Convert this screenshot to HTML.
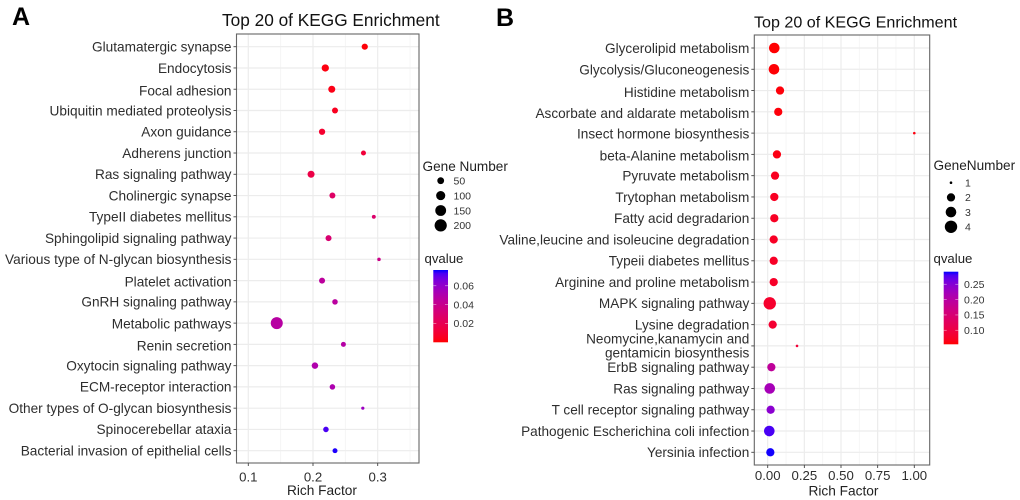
<!DOCTYPE html>
<html lang="en">
<head>
<meta charset="utf-8">
<title>Top 20 of KEGG Enrichment</title>
<style>
  html, body { margin: 0; padding: 0; background: #fff; }
  svg { display: block; font-family: "Liberation Sans", Arial, sans-serif; filter: blur(0.35px); }
</style>
</head>
<body>
<svg id="figure" xmlns="http://www.w3.org/2000/svg" width="1020" height="500" viewBox="0 0 1020 500">
  <rect x="0" y="0" width="1020" height="500" fill="#ffffff"/>
  <text x="12" y="25" font-size="25" font-weight="bold" fill="#000">A</text>
  <text x="496" y="26" font-size="25" font-weight="bold" fill="#000">B</text>
  <g id="chart-a"></g>
  <g id="chart-b"></g>
</svg>
<script>
// ---- Panel A data ----
var aCategories = ["Glutamatergic synapse","Endocytosis","Focal adhesion","Ubiquitin mediated proteolysis","Axon guidance","Adherens junction","Ras signaling pathway","Cholinergic synapse","TypeII diabetes mellitus","Sphingolipid signaling pathway","Various type of N-glycan biosynthesis","Platelet activation","GnRH signaling pathway","Metabolic pathways","Renin secretion","Oxytocin signaling pathway","ECM-receptor interaction","Other types of O-glycan biosynthesis","Spinocerebellar ataxia","Bacterial invasion of epithelial cells"];
var aRichFactor = [0.280,0.219,0.229,0.234,0.214,0.278,0.197,0.230,0.294,0.224,0.302,0.214,0.234,0.144,0.247,0.203,0.230,0.277,0.220,0.234];
var aGeneNumber = [41,59,54,38,42,26,54,38,18,38,16,38,32,191,26,45,32,15,32,26];
var aQValue = [0.001,0.002,0.003,0.005,0.009,0.012,0.016,0.026,0.028,0.030,0.038,0.045,0.046,0.047,0.048,0.050,0.051,0.057,0.073,0.076];
var aXTicks = [0.1,0.2,0.3];
var aXMinorTicks = [0.15,0.25,0.35];
var aSizeLegend = [50,100,150,200];
var aColorTicks = [0.02,0.04,0.06];

// ---- Panel B data ----
var bCategories = ["Glycerolipid metabolism","Glycolysis/Gluconeogenesis","Histidine metabolism","Ascorbate and aldarate metabolism","Insect hormone biosynthesis","beta-Alanine metabolism","Pyruvate metabolism","Trytophan metabolism","Fatty acid degradarion","Valine,leucine and isoleucine degradation","Typeii diabetes mellitus","Arginine and proline metabolism","MAPK signaling pathway","Lysine degradation","Neomycine,kanamycin and\ngentamicin biosynthesis","ErbB signaling pathway","Ras signaling pathway","T cell receptor signaling pathway","Pathogenic Escherichina coli infection","Yersinia infection"];
var bRichFactor = [0.045,0.043,0.084,0.072,1.00,0.063,0.050,0.045,0.045,0.041,0.041,0.041,0.014,0.034,0.200,0.025,0.014,0.020,0.011,0.018];
var bGeneNumber = [3,3,2,2,1,2,2,2,2,2,2,2,4,2,1,2,3,2,3,2];
var bQValue = [0.055,0.056,0.058,0.058,0.060,0.062,0.070,0.072,0.073,0.074,0.075,0.076,0.080,0.085,0.090,0.190,0.220,0.245,0.280,0.290];
var bXTicks = [0,0.25,0.5,0.75,1];
var bXMinorTicks = [0.125,0.375,0.625,0.875];
var bSizeLegend = [1,2,3,4];
var bColorTicks = [0.10,0.15,0.20,0.25];

var SVGNS = "http://www.w3.org/2000/svg";

function mk(parent, tag, attrs, text) {
  var el = document.createElementNS(SVGNS, tag);
  for (var k in attrs) { el.setAttribute(k, attrs[k]); }
  if (text !== undefined) { el.textContent = text; }
  parent.appendChild(el);
  return el;
}

function linear(d0, d1, r0, r1) {
  return function (v) { return r0 + (v - d0) * (r1 - r0) / (d1 - d0); };
}

// Lab interpolation between red and blue, as ggplot's seq_gradient does
function labToHex(L, a, b) {
  var fy = (L + 16) / 116, fx = fy + a / 500, fz = fy - b / 200;
  function f(t) { return t > 6 / 29 ? t * t * t : 3 * (6 / 29) * (6 / 29) * (t - 4 / 29); }
  var X = 0.95047 * f(fx), Y = f(fy), Z = 1.08883 * f(fz);
  var rgb = [
    3.2406 * X - 1.5372 * Y - 0.4986 * Z,
    -0.9689 * X + 1.8758 * Y + 0.0415 * Z,
    0.0557 * X - 0.2040 * Y + 1.0570 * Z
  ];
  return "#" + rgb.map(function (c) {
    c = Math.max(0, Math.min(1, c));
    c = c <= 0.0031308 ? 12.92 * c : 1.055 * Math.pow(c, 1 / 2.4) - 0.055;
    var h = Math.round(c * 255).toString(16);
    return h.length < 2 ? "0" + h : h;
  }).join("");
}

function gradientColor(t) {
  t = Math.max(0, Math.min(1, t));
  return labToHex(53.24 + (32.3 - 53.24) * t, 80.09 + (79.19 - 80.09) * t, 67.2 + (-107.86 - 67.2) * t);
}

function drawChart(root, cfg) {
  var i, el;
  var x = linear(cfg.xCal[0], cfg.xCal[1], cfg.xCal[2], cfg.xCal[3]);
  var yStep = (cfg.lastY - cfg.firstY) / (cfg.categories.length - 1);
  var y = function (idx) { return cfg.firstY + idx * yStep; };
  var dia = function (n) {
    return cfg.dMin + (cfg.dMax - cfg.dMin) * Math.sqrt(Math.max(0, n - cfg.nMin) / (cfg.nMax - cfg.nMin));
  };
  var qNorm = linear(cfg.qMin, cfg.qMax, 0, 1);
  var qY = linear(cfg.qMin, cfg.qMax, cfg.bar.bottom, cfg.bar.top);
  var p = cfg.panel;

  el = mk(root, "text", { x: cfg.titleX, y: cfg.titleY, "font-size": cfg.titleSize, fill: "#111" }, "Top 20 of KEGG Enrichment");
  
  

  el = mk(root, "rect", { x: p.left, y: p.top, width: p.right - p.left, height: p.bottom - p.top, fill: "#fff" });
  
  

  // grid
  cfg.xMinor.forEach(function (v) {
    var g = mk(root, "line", { x1: x(v), x2: x(v), y1: p.top, y2: p.bottom, stroke: "#f4f4f4", "stroke-width": 0.8 });
    
    
  });
  cfg.xTicks.forEach(function (v) {
    var g = mk(root, "line", { x1: x(v), x2: x(v), y1: p.top, y2: p.bottom, stroke: "#ececec", "stroke-width": 1.2 });
    
    
  });
  cfg.categories.forEach(function (c, idx) {
    var g = mk(root, "line", { x1: p.left, x2: p.right, y1: y(idx), y2: y(idx), stroke: "#ececec", "stroke-width": 1.2 });
    
    
  });

  // points
  for (i = 0; i < cfg.categories.length; i++) {
    el = mk(root, "circle", {
      cx: x(cfg.rich[i]), cy: y(i), r: dia(cfg.genes[i]) / 2,
      fill: gradientColor(qNorm(cfg.q[i]))
    });
    
    
  }

  // border
  el = mk(root, "rect", { x: p.left, y: p.top, width: p.right - p.left, height: p.bottom - p.top, fill: "none", stroke: "#666", "stroke-width": 1.1 });
  
  

  // y axis labels + ticks
  cfg.categories.forEach(function (c, idx) {
    var t = mk(root, "line", { x1: p.left - 3, x2: p.left, y1: y(idx), y2: y(idx), stroke: "#444", "stroke-width": 0.9 });
    
    
    var parts = c.split("\n");
    var nudge = cfg.labelNudge[idx] || 0;
    parts.forEach(function (line, li) {
      var off = (parts.length > 1 ? (li === 0 ? -7 : 6.8) : 0) + 4.8 + nudge;
      var lab = mk(root, "text", { x: p.left - 5, y: y(idx) + off, "text-anchor": "end", "font-size": cfg.labelSize, fill: "#2e2e2e" }, line);
      
      
    });
  });

  // x axis
  cfg.xTicks.forEach(function (v) {
    var t = mk(root, "line", { x1: x(v), x2: x(v), y1: p.bottom, y2: p.bottom + 3, stroke: "#444", "stroke-width": 0.9 });
    
    
    var lab = mk(root, "text", { x: x(v), y: cfg.xLabelY, "text-anchor": "middle", "font-size": 13.2, fill: "#2e2e2e" }, v.toFixed(cfg.xDigits));
    
    
  });
  el = mk(root, "text", { x: cfg.xTitleX, y: cfg.xTitleY, "text-anchor": "middle", "font-size": 13.7, fill: "#222" }, "Rich Factor");
  
  

  // size legend
  el = mk(root, "text", { x: cfg.sizeTitleX, y: cfg.sizeTitleY, "font-size": 13.6, fill: "#222" }, cfg.sizeTitle);
  
  
  cfg.sizeLegend.forEach(function (n, idx) {
    var ly = cfg.sizeY + idx * cfg.sizeStep;
    var d = mk(root, "circle", { cx: cfg.sizeDotX, cy: ly, r: dia(n) / 2, fill: "#000" });
    
    
    var lab = mk(root, "text", { x: cfg.sizeLabelX, y: ly + 3.8, "font-size": 10.5, fill: "#333" }, String(n));
    
    
  });

  // color legend
  el = mk(root, "text", { x: cfg.qTitleX, y: cfg.qTitleY, "font-size": 13.2, fill: "#222" }, "qvalue");
  
  
  var defs = mk(root, "defs", {});
  var grad = mk(defs, "linearGradient", { id: cfg.id + "-grad", x1: 0, x2: 0, y1: 1, y2: 0 });
  for (i = 0; i <= 20; i++) {
    mk(grad, "stop", { offset: i / 20, "stop-color": gradientColor(i / 20) });
  }
  var b = cfg.bar;
  el = mk(root, "rect", { x: b.left, y: b.top, width: b.right - b.left, height: b.bottom - b.top, fill: "url(#" + cfg.id + "-grad)" });
  
  
  cfg.colorTicks.forEach(function (v) {
    var ty = qY(v);
    var t1 = mk(root, "line", { x1: b.left, x2: b.left + 3, y1: ty, y2: ty, stroke: "#fff", "stroke-opacity": 0.6, "stroke-width": 0.7 });
    
    
    var t2 = mk(root, "line", { x1: b.right - 3, x2: b.right, y1: ty, y2: ty, stroke: "#fff", "stroke-opacity": 0.6, "stroke-width": 0.7 });
    
    
    var lab = mk(root, "text", { x: cfg.qLabelX, y: ty + 3.8, "font-size": 10.5, fill: "#333" }, v.toFixed(2));
    
    
  });
}

drawChart(document.getElementById("chart-a"), {
  id: "a",
  categories: aCategories, rich: aRichFactor, genes: aGeneNumber, q: aQValue,
  xTicks: aXTicks, xMinor: aXMinorTicks, sizeLegend: aSizeLegend, colorTicks: aColorTicks,
  panel: { left: 236.5, right: 419, top: 34, bottom: 463 },
  xCal: [0.1, 0.3, 248.3, 377.7], xDigits: 1,
  firstY: 46.7, lastY: 450.7, labelSize: 13.65,
  labelNudge: { 1: 0.4, 2: 1.6, 11: 1, 14: 1.3, 13: 0.6 },
  titleX: 222, titleY: 26, titleSize: 17.25,
  xLabelY: 481.5, xTitleX: 322, xTitleY: 495,
  dMin: 2.5, dMax: 12.5, nMin: 14, nMax: 210, qMin: 0, qMax: 0.0767,
  sizeTitle: "Gene Number", sizeTitleX: 422.5, sizeTitleY: 171,
  sizeDotX: 440.7, sizeY: 180.7, sizeStep: 14.9, sizeLabelX: 453.5,
  qTitleX: 424.5, qTitleY: 263, qLabelX: 453.5,
  bar: { left: 433.3, right: 448, top: 270, bottom: 342.3 }
});

drawChart(document.getElementById("chart-b"), {
  id: "b",
  categories: bCategories, rich: bRichFactor, genes: bGeneNumber, q: bQValue,
  xTicks: bXTicks, xMinor: bXMinorTicks, sizeLegend: bSizeLegend, colorTicks: bColorTicks,
  panel: { left: 754.3, right: 929.7, top: 35, bottom: 465 },
  xCal: [0, 1, 767.7, 914.3], xDigits: 2,
  firstY: 48, lastY: 452.3, labelSize: 13.6,
  labelNudge: { 1: 0.4, 2: 1.7, 3: 1.4, 4: 0.5, 5: 1.3 },
  titleX: 754, titleY: 27.5, titleSize: 16.1,
  xLabelY: 480, xTitleX: 843.5, xTitleY: 495.5,
  dMin: 2.6, dMax: 12.4, nMin: 1, nMax: 4, qMin: 0.0543, qMax: 0.291,
  sizeTitle: "GeneNumber", sizeTitleX: 933.5, sizeTitleY: 170,
  sizeDotX: 951, sizeY: 182.7, sizeStep: 14.7, sizeLabelX: 965,
  qTitleX: 933.5, qTitleY: 263, qLabelX: 964,
  bar: { left: 943.7, right: 958.3, top: 271.7, bottom: 344.3 }
});
</script>
</body>
</html>
